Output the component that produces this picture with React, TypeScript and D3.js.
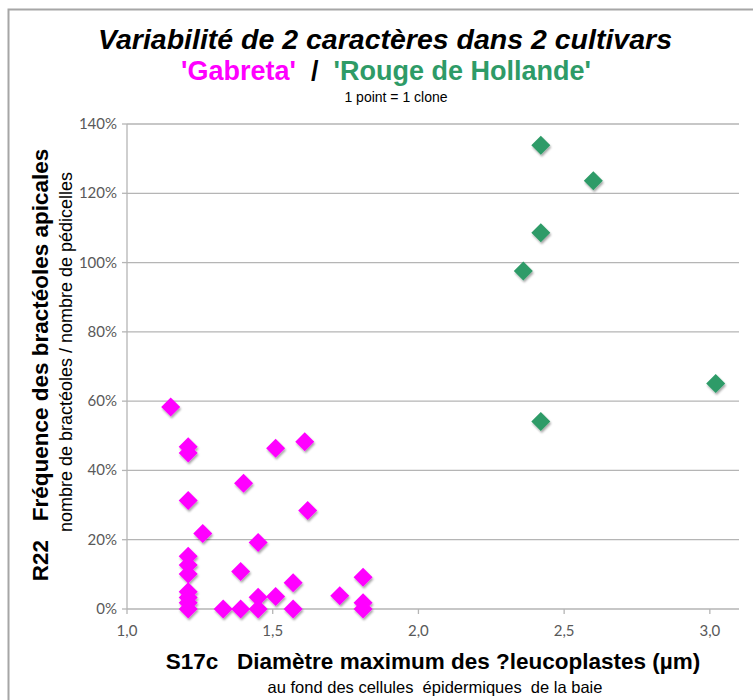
import React from "react";
import * as d3 from "d3";

const gabretaX = [1.15, 1.21, 1.21, 1.21, 1.26, 1.21, 1.21, 1.21, 1.21, 1.21, 1.21, 1.21, 1.33, 1.39, 1.45, 1.45, 1.4, 1.39, 1.45, 1.51, 1.51, 1.57, 1.57, 1.61, 1.62, 1.73, 1.81, 1.81, 1.81];
const gabretaY = [0.583, 0.468, 0.45, 0.313, 0.218, 0.152, 0.127, 0.101, 0.05, 0.033, 0.018, 0.0, 0.0, 0.0, 0.0, 0.034, 0.363, 0.108, 0.192, 0.464, 0.036, 0.076, 0.0, 0.483, 0.284, 0.038, 0.092, 0.018, 0.0];
const rougeX = [2.42, 2.6, 2.42, 2.36, 3.02, 2.42];
const rougeY = [1.339, 1.236, 1.086, 0.976, 0.651, 0.541];
const xTicks = [1.0, 1.5, 2.0, 2.5, 3.0];
const yTicks = [0, 0.2, 0.4, 0.6, 0.8, 1.0, 1.2, 1.4];

const MAGENTA = "#FF00FF";
const GREEN = "#2E9B67";

export default function App() {
  const x = d3.scaleLinear().domain([1, 3.1]).range([127, 739]);
  const y = d3.scaleLinear().domain([0, 1.4]).range([609, 124]);
  const fmtX = (v: number) => d3.format(".1f")(v).replace(".", ",");
  const fmtY = d3.format(".0%");
  const s = 9.5;
  const diamond = (cx: number, cy: number) =>
    `M${cx},${cy - s}L${cx + s},${cy}L${cx},${cy + s}L${cx - s},${cy}Z`;
  const gab = gabretaX.map((v, i) => ({ x: v, y: gabretaY[i] }));
  const rou = rougeX.map((v, i) => ({ x: v, y: rougeY[i] }));
  const tickFont = "Lato, 'Open Sans', sans-serif";
  const arial = "'Liberation Sans', Arial, sans-serif";
  return (
    <svg width={753} height={700} style={{ position: "absolute", left: 0, top: 0, background: "#fff" }}>
      <defs>
        <filter id="sh" x="-50%" y="-50%" width="200%" height="200%">
          <feDropShadow dx="1" dy="2" stdDeviation="1.3" floodColor="#000" floodOpacity="0.35" />
        </filter>
      </defs>
      <rect x={8.5} y={9.5} width={800} height={800} fill="#fff" stroke="#a6a6a6" strokeWidth={2} />
      {/* title */}
      <text x={385} y={49} textAnchor="middle" fontFamily={arial} fontSize={28.5} fontWeight="bold" fontStyle="italic" fill="#000">
        Variabilité de 2 caractères dans 2 cultivars
      </text>
      <text x={386} y={80} textAnchor="middle" fontFamily={arial} fontSize={27} fontWeight="bold" xmlSpace="preserve">
        <tspan fill={MAGENTA}>'Gabreta'</tspan>
        <tspan fill="#000">{"  /  "}</tspan>
        <tspan fill={GREEN}>'Rouge de Hollande'</tspan>
      </text>
      <text x={396} y={102} textAnchor="middle" fontFamily={arial} fontSize={14} fill="#000">
        1 point = 1 clone
      </text>
      {/* grid */}
      {yTicks.filter((t) => t > 0).map((t) => (
        <line key={"g" + t} x1={127} x2={739} y1={y(t)} y2={y(t)} stroke="#b5b5b5" strokeWidth={1.3} />
      ))}
      {/* y axis */}
      <line x1={127} x2={127} y1={124} y2={609} stroke="#b5b5b5" strokeWidth={1.3} />
      {yTicks.map((t) => (
        <g key={"y" + t}>
          <line x1={122} x2={127} y1={y(t)} y2={y(t)} stroke="#b5b5b5" strokeWidth={1.3} />
          <text x={117} y={y(t) + 5} textAnchor="end" fontFamily={tickFont} fontSize={15} fill="#595959">
            {fmtY(t)}
          </text>
        </g>
      ))}
      {/* x axis */}
      <line x1={127} x2={739} y1={609} y2={609} stroke="#b5b5b5" strokeWidth={1.3} />
      {xTicks.map((t) => (
        <g key={"x" + t}>
          <line x1={x(t)} x2={x(t)} y1={609} y2={614} stroke="#b5b5b5" strokeWidth={1.3} />
          <text x={x(t)} y={636} textAnchor="middle" fontFamily={tickFont} fontSize={15} fill="#595959">
            {fmtX(t)}
          </text>
        </g>
      ))}
      {/* points */}
      <g filter="url(#sh)">
        {gab.map((d, i) => (
          <path key={"m" + i} d={diamond(x(d.x), y(d.y))} fill={MAGENTA} />
        ))}
        {rou.map((d, i) => (
          <path key={"r" + i} d={diamond(x(d.x), y(d.y))} fill={GREEN} />
        ))}
      </g>
      {/* y title */}
      <text transform="translate(48,365) rotate(-90)" textAnchor="middle" fontFamily={arial} fontSize={22.5} fontWeight="bold" fill="#000" xmlSpace="preserve">
        {"R22   Fréquence des bractéoles apicales"}
      </text>
      <text transform="translate(72,352) rotate(-90)" textAnchor="middle" fontFamily={arial} fontSize={18} fill="#000">
        nombre de bractéoles / nombre de pédicelles
      </text>
      {/* x title */}
      <text x={433} y={669} textAnchor="middle" fontFamily={arial} fontSize={22.5} fontWeight="bold" fill="#000" xmlSpace="preserve">
        {"S17c   Diamètre maximum des ?leucoplastes (µm)"}
      </text>
      <text x={435} y={693} textAnchor="middle" fontFamily={arial} fontSize={16.5} fill="#000" xmlSpace="preserve">
        {"au fond des cellules  épidermiques  de la baie"}
      </text>
    </svg>
  );
}
